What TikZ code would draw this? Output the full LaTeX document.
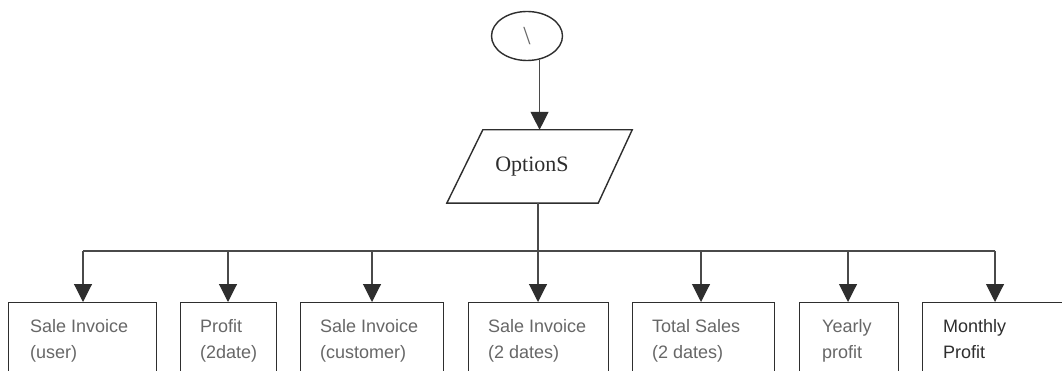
\documentclass[tikz,border=0pt]{standalone}
\usepackage{fontspec}
\setmainfont{Liberation Serif}
\setsansfont{Liberation Sans}
\usetikzlibrary{arrows.meta,shapes.geometric}
\definecolor{ink}{HTML}{2E2E2E}
\definecolor{linegray}{HTML}{4A4A4A}
\definecolor{txtgray}{HTML}{676767}
\tikzset{
  flow/.style={draw=linegray, line width=1.1pt},
  arr/.style={flow, -{Triangle[length=18pt,width=18pt,color=ink]}},
  termbox/.style={ellipse, draw=ink, line width=1.4pt, minimum width=71pt,
    minimum height=49pt, inner sep=0pt, font=\fontsize{26}{30}\selectfont, text=txtgray},
  iobox/.style={minimum width=150pt, minimum height=73pt, inner sep=0pt,
    font=\fontsize{22}{26}\selectfont, text=ink},
  iooutline/.style={draw=ink, line width=1.4pt},
  optbox/.style={draw=ink, line width=1.4pt, minimum height=140pt,
    anchor=north west, inner sep=0pt},
  optlbl/.style={font=\sffamily\fontsize{18}{26}\selectfont, text=txtgray,
    align=left, anchor=base west, inner sep=0pt},
}
\begin{document}
\begin{tikzpicture}[x=1pt,y=-1pt]
  \useasboundingbox (0,0) rectangle (1062,371);
  \fill[white] (0,0) rectangle (1062,371);
  \clip (0,0) rectangle (1062,371);

  % start connector and options input
  \node[termbox] (e) at (527,36) {\textbackslash};
  \node[iobox] (opt) at (532,166.5) {OptionS};
  \draw[iooutline] ([xshift=26pt]opt.north west) -- ([xshift=25pt]opt.north east)
     -- ([xshift=-9pt]opt.south east) -- ([xshift=-10pt]opt.south west) -- cycle;
  \draw[arr] (e.-62.5) -- (e.-62.5 |- opt.north);

  % option boxes
  \node[optbox, minimum width=148pt] (b1) at (8,302) {};
  \node[optbox, minimum width=96pt]  (b2) at (180,302) {};
  \node[optbox, minimum width=143pt] (b3) at (300,302) {};
  \node[optbox, minimum width=140pt] (b4) at (468,302) {};
  \node[optbox, minimum width=142pt] (b5) at (632,302) {};
  \node[optbox, minimum width=99pt]  (b6) at (799,302) {};
  \node[optbox, minimum width=160pt] (b7) at (922,302) {};

  % the base anchor of a two-line label sits on its second line
  \node[optlbl] (t1) at ([shift={(22,56)}]b1.north west) {Sale Invoice\\(user)};
  \node[optlbl] (t2) at ([shift={(20,56)}]b2.north west) {Profit\\(2date)};
  \node[optlbl] (t3) at ([shift={(20,56)}]b3.north west) {Sale Invoice\\(customer)};
  \node[optlbl] (t4) at ([shift={(20,56)}]b4.north west) {Sale Invoice\\(2 dates)};
  \node[optlbl] (t5) at ([shift={(20,56)}]b5.north west) {Total Sales\\(2 dates)};
  \node[optlbl] (t6) at ([shift={(23,56)}]b6.north west) {Yearly\\profit};
  \node[optlbl, text=ink] (t7) at ([shift={(21,56)}]b7.north west) {Monthly\\Profit};

  % distribution bus
  \coordinate (j1) at (83,251);
  \coordinate (j2) at (228,251);
  \coordinate (j3) at (372,251);
  \coordinate (j4) at (538,251);
  \coordinate (j5) at (701,251);
  \coordinate (j6) at (848,251);
  \coordinate (j7) at (995,251);

  \draw[flow] (j4 |- opt.south) -- (j4);
  \draw[flow] (j1) -- (j7);
  \foreach \i in {1,...,7}
    \draw[arr] (j\i) -- (j\i |- b\i.north);
\end{tikzpicture}
\end{document}
